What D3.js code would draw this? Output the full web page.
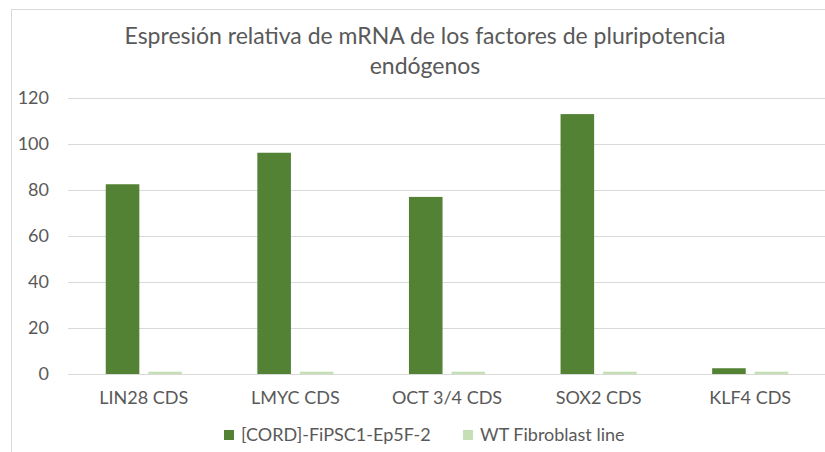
<!DOCTYPE html>
<html>
<head>
<meta charset="utf-8">
<script src="https://cdn.jsdelivr.net/npm/d3@7"></script>
<style>
  body { margin: 0; background: #fff; }
  text { font-family: Lato, "Open Sans", sans-serif; fill: #595959; }
</style>
</head>
<body>
<svg id="chart" width="825" height="452"></svg>
<script>
// chart values
var categories = ["LIN28 CDS", "LMYC CDS", "OCT 3/4 CDS", "SOX2 CDS", "KLF4 CDS"];
var seriesNames = ["[CORD]-FiPSC1-Ep5F-2", "WT Fibroblast line"];
var cordValues = [82.5, 96.2, 77, 113, 2.5];
var wtValues = [1, 1, 1, 1, 1];
var yTicks = [0, 20, 40, 60, 80, 100, 120];
var titleLines = ["Espresión relativa de mRNA de los factores de pluripotencia", "endógenos"];

var colors = ["#548235", "#c5e0b4"];

var svg = d3.select("#chart");
var width = 825, height = 452;

var plot = {left: 68, right: 826, top: 98, bottom: 374};

// chart frame (right/bottom edges fall outside the picture)
svg.append("rect")
    .attr("x", 11.5).attr("y", 9.5)
    .attr("width", 840).attr("height", 460)
    .attr("fill", "none")
    .attr("stroke", "#d9d9d9");

// title
var title = svg.append("text")
    .attr("text-anchor", "middle")
    .style("font-size", "23px");
titleLines.forEach(function(line, i) {
    title.append("tspan")
        .attr("x", 425)
        .attr("y", 44 + i * 30)
        .text(line);
});

var x0 = d3.scaleBand()
    .domain(categories)
    .range([plot.left, plot.right])
    .padding(0);

var bw = x0.bandwidth();
var x1 = d3.scaleBand()
    .domain(seriesNames)
    .range([bw * 0.249, bw * 0.751])
    .paddingInner(0.21);

var y = d3.scaleLinear()
    .domain([0, 120])
    .range([plot.bottom, plot.top]);

// gridlines
svg.append("g")
    .selectAll("line")
    .data(yTicks)
    .enter()
    .append("line")
    .attr("x1", plot.left)
    .attr("x2", plot.right)
    .attr("y1", function(d) { return Math.round(y(d)) + 0.5; })
    .attr("y2", function(d) { return Math.round(y(d)) + 0.5; })
    .attr("stroke", "#d9d9d9")
    .attr("stroke-width", 1);

// y axis labels
var yAxis = d3.axisLeft(y)
    .tickValues(yTicks)
    .tickSize(0)
    .tickPadding(0);
var yg = svg.append("g")
    .attr("transform", "translate(49,0)")
    .call(yAxis);
yg.select(".domain").remove();
yg.selectAll("text")
    .style("font-size", "18px")
    .style("font-family", "Lato, 'Open Sans', sans-serif")
    .attr("fill", "#595959");

// bars
var rows = categories.map(function(c, i) {
    return {cat: c, values: [cordValues[i], wtValues[i]]};
});

var groups = svg.append("g")
    .selectAll("g")
    .data(rows)
    .enter()
    .append("g")
    .attr("transform", function(d) { return "translate(" + x0(d.cat) + ",0)"; });

groups.selectAll("rect")
    .data(function(d) {
        return d.values.map(function(v, j) { return {name: seriesNames[j], value: v, j: j}; });
    })
    .enter()
    .append("rect")
    .attr("x", function(d) { return x1(d.name); })
    .attr("width", x1.bandwidth())
    .attr("y", function(d) { return y(d.value); })
    .attr("height", function(d) { return y(0) - y(d.value); })
    .attr("fill", function(d) { return colors[d.j]; });

// category axis
var xAxis = d3.axisBottom(x0).tickSize(0).tickPadding(0);
var xg = svg.append("g")
    .attr("transform", "translate(0,391)")
    .call(xAxis);
xg.select(".domain").remove();
xg.selectAll("text")
    .style("font-size", "18px")
    .style("font-family", "Lato, 'Open Sans', sans-serif")
    .attr("fill", "#595959");

// legend
var legendX = [224, 463];
var legend = svg.append("g")
    .selectAll("g")
    .data(seriesNames)
    .enter()
    .append("g")
    .attr("transform", function(d, i) { return "translate(" + legendX[i] + ",430)"; });

legend.append("rect")
    .attr("width", 10)
    .attr("height", 10)
    .attr("fill", function(d, i) { return colors[i]; });

legend.append("text")
    .attr("x", 17)
    .attr("y", 5)
    .attr("dy", "0.35em")
    .style("font-size", "18px")
    .text(function(d) { return d; });
</script>
</body>
</html>
